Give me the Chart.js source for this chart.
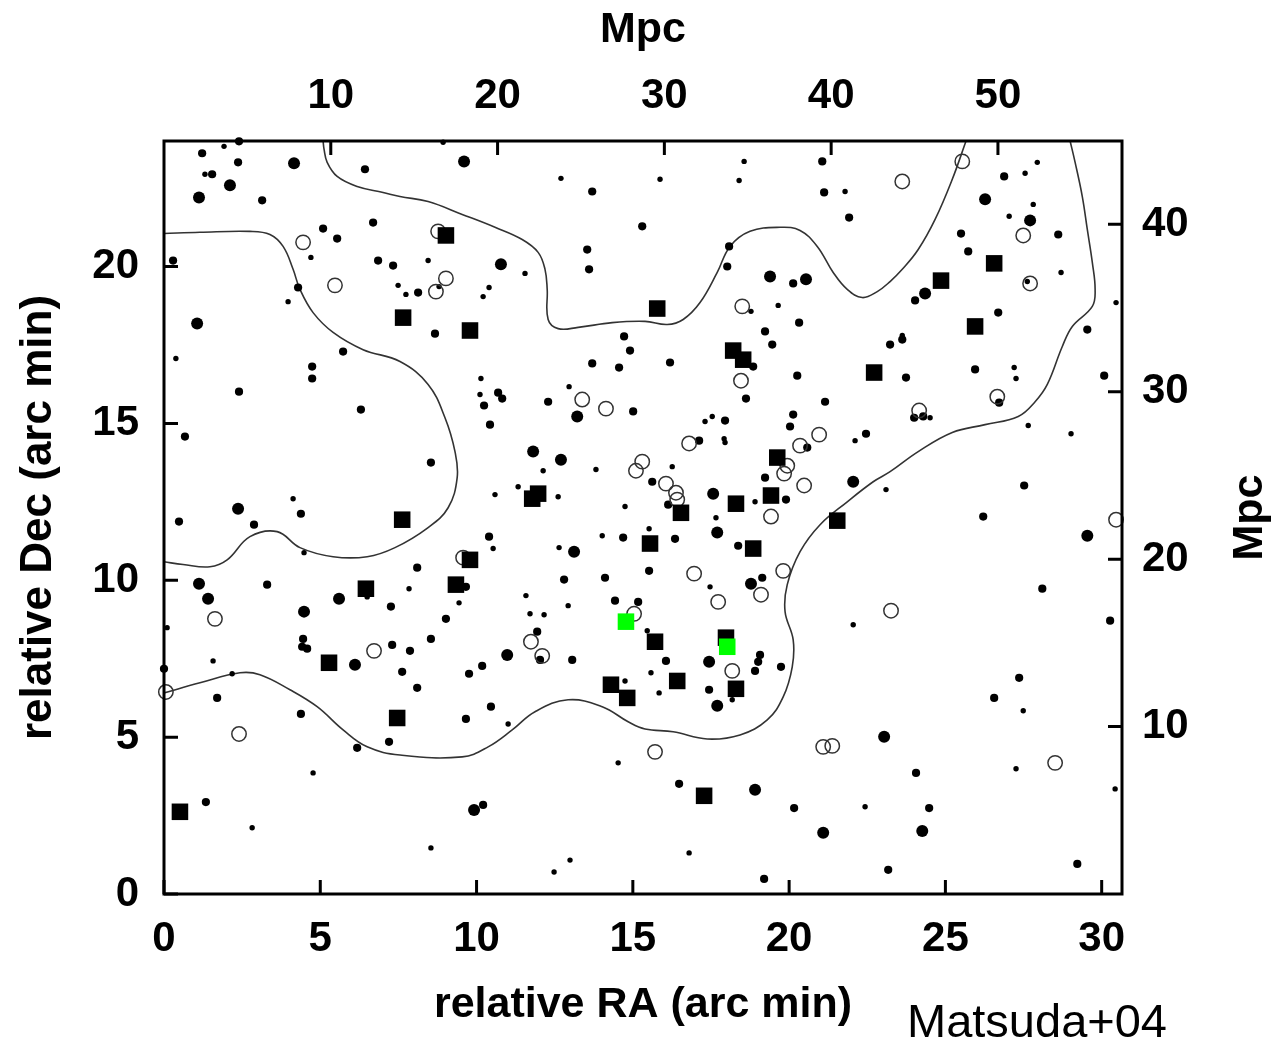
<!DOCTYPE html>
<html><head><meta charset="utf-8">
<script src="https://cdn.jsdelivr.net/npm/chart.js@4/dist/chart.umd.min.js"></script>
<style>
html,body{margin:0;padding:0;background:#fff;}
#wrap{position:relative;width:1276px;height:1039px;overflow:hidden;background:#fff;}
#c{position:absolute;left:0;top:0;}
#credit{position:absolute;left:907px;top:993px;font:47px "Liberation Sans",Arial,sans-serif;color:#000;white-space:nowrap;}
</style></head><body>
<div id="wrap"><canvas id="c" width="1276" height="1039" style="width:1276px;height:1039px"></canvas><div id="credit">Matsuda+04</div></div>
<script>
// ---- axis settings ----
const RA_MAX = 30.65;          // relative RA (arc min)
const DEC_MAX = 24.0;          // relative Dec (arc min)
const MPC_PER_ARCMIN = 1.874;
const xTicks = [0, 5, 10, 15, 20, 25, 30];
const yTicks = [0, 5, 10, 15, 20];
const mpcTopTicks = [10, 20, 30, 40, 50];
const mpcRightTicks = [10, 20, 30, 40];
const rightTitle = 'Mpc';

// ---- data: [RA, Dec] ----
const blackSquares = [
 [7.65,18.37],[9.02,20.99],[9.79,17.96],[15.78,18.66],[18.21,17.32],[18.53,17.03],[22.72,16.62],
 [26.56,20.10],[24.86,19.55],[25.95,18.09],[11.97,12.76],[11.78,12.60],[7.62,11.93],[9.79,10.65],
 [9.34,9.86],[6.46,9.73],[16.54,12.15],[18.30,12.44],[19.42,12.70],[19.62,13.91],[21.54,11.90],
 [15.55,11.17],[18.85,11.01],[15.71,8.04],[17.98,8.17],[5.28,7.37],[7.46,5.61],[14.30,6.67],
 [14.82,6.25],[16.42,6.79],[18.30,6.54],[17.28,3.13],[0.51,2.62]
];
const greenSquares = [[14.78,8.68],[18.02,7.88]];
const openCircles = [
 [4.45,20.77],[5.47,19.40],[8.77,21.12],[9.02,19.62],[8.70,19.20],[13.38,15.76],[14.14,15.47],
 [18.50,18.73],[18.46,16.36],[25.54,23.35],[23.62,22.71],[27.49,20.99],[27.71,19.46],[26.66,15.85],
 [24.16,15.41],[15.10,13.49],[15.30,13.78],[16.80,14.36],[20.96,14.64],[20.35,14.29],[19.94,13.65],
 [19.84,13.40],[16.06,13.08],[16.38,12.79],[16.42,12.57],[20.48,13.02],[19.42,12.03],[16.96,10.21],
 [19.81,10.30],[19.10,9.54],[17.73,9.31],[23.26,9.03],[30.46,11.93],[15.04,8.93],[11.74,8.04],
 [12.10,7.59],[9.57,10.72],[1.63,8.77],[6.72,7.75],[0.06,6.44],[2.40,5.10],[18.18,7.11],
 [15.71,4.53],[21.09,4.69],[21.38,4.72],[28.51,4.18]
];
const dotsLarge = [
 [4.16,23.29],[2.11,22.59],[1.12,22.20],[1.06,18.18],[9.60,23.35],[10.78,20.07],[19.39,19.68],
 [20.54,19.59],[26.27,22.14],[27.71,21.47],[24.35,19.14],[2.37,12.28],[1.12,9.89],[1.41,9.41],
 [5.60,9.41],[4.48,9.00],[13.22,15.22],[11.81,14.10],[12.70,13.84],[13.12,10.91],[22.05,13.14],
 [17.57,12.76],[17.70,11.52],[18.78,9.89],[29.54,11.42],[6.11,7.31],[10.98,7.62],[9.92,2.68],
 [17.44,7.40],[17.70,6.00],[23.04,5.01],[18.91,3.32],[21.09,1.95],[24.26,2.01]
];
const dotsMedium = [
 [2.40,23.99],[1.22,23.61],[2.37,23.32],[1.54,22.94],[3.14,22.11],[6.43,23.10],[6.69,21.40],
 [5.09,21.21],[5.54,20.89],[6.85,20.19],[7.33,20.03],[0.29,20.19],[4.29,19.33],[5.73,17.29],
 [4.74,16.81],[4.74,16.43],[2.40,16.01],[13.70,22.39],[15.30,21.28],[8.13,19.17],[13.54,20.54],
 [13.60,19.91],[8.67,17.86],[14.72,17.77],[14.91,17.32],[13.70,16.91],[14.56,16.78],[10.69,15.98],
 [21.06,23.35],[21.12,22.36],[21.92,21.56],[18.08,20.64],[18.02,20.00],[20.13,19.46],[20.32,18.21],
 [19.23,17.93],[19.46,17.51],[18.85,16.81],[16.19,16.94],[20.26,16.52],[26.88,22.87],[28.61,21.02],
 [25.50,21.05],[25.73,20.48],[24.03,18.92],[26.69,18.53],[29.54,17.99],[23.23,17.51],[23.62,17.67],
 [25.95,16.72],[23.74,16.46],[30.08,16.52],[6.30,15.44],[0.67,14.58],[4.38,12.12],[0.48,11.87],
 [2.88,11.77],[3.30,9.86],[7.26,9.16],[4.45,8.13],[4.42,7.88],[4.58,7.82],[7.30,7.94],
 [10.82,15.79],[10.24,15.57],[12.29,15.69],[15.01,15.38],[10.43,14.96],[8.54,13.75],[10.40,11.39],
 [14.69,11.36],[8.10,10.40],[9.66,9.79],[12.80,10.02],[14.11,10.08],[9.02,8.77],[14.43,9.35],
 [15.17,9.31],[8.54,8.13],[11.94,8.36],[18.62,15.79],[21.15,15.69],[20.13,15.28],[20.03,14.90],
 [17.95,15.09],[22.46,14.67],[17.12,14.45],[20.58,14.23],[19.23,13.27],[15.62,13.14],[16.13,12.41],
 [19.90,12.57],[16.35,11.32],[18.37,11.10],[15.52,10.30],[19.14,10.08],[26.72,15.66],[24.00,15.18],
 [24.29,15.22],[27.52,13.02],[26.21,12.03],[28.10,9.73],[30.27,8.71],[0.00,7.18],[1.70,6.25],
 [4.38,5.74],[7.20,4.85],[6.18,4.66],[1.34,2.93],[7.87,7.75],[7.62,7.08],[10.18,7.27],
 [9.76,7.02],[13.06,7.46],[12.03,7.46],[8.10,6.57],[10.46,5.97],[9.66,5.58],[10.21,2.84],
 [16.06,7.43],[19.07,7.62],[19.01,7.40],[18.91,7.11],[19.74,7.24],[17.44,6.51],[16.48,3.51],
 [20.16,2.74],[19.20,0.48],[23.17,0.77],[27.36,6.89],[26.56,6.25],[24.06,3.86],[24.48,2.74],
 [29.22,0.96]
];
const dotsSmall = [
 [1.92,23.83],[1.31,22.94],[4.70,20.29],[7.49,19.40],[3.97,18.88],[0.38,17.07],[8.93,23.96],
 [12.70,22.81],[8.45,20.19],[11.55,19.78],[8.80,19.36],[7.74,19.11],[10.40,19.33],[10.21,19.04],
 [10.14,16.43],[12.96,16.17],[18.56,23.35],[15.87,22.78],[18.40,22.74],[21.79,22.39],[18.78,18.57],
 [19.65,18.76],[27.94,23.32],[27.55,22.97],[27.81,21.98],[27.04,21.60],[28.70,19.81],[27.62,19.52],
 [30.46,18.85],[23.62,17.80],[27.20,16.78],[27.26,16.43],[4.13,12.60],[4.48,10.88],[6.50,9.47],
 [0.10,8.49],[10.11,15.92],[12.13,13.49],[13.82,13.53],[11.33,12.98],[10.59,12.73],[12.61,12.66],
 [14.75,12.35],[10.53,11.01],[14.02,11.42],[12.64,11.04],[7.84,9.73],[9.44,9.28],[11.58,9.51],
 [12.93,9.19],[11.71,8.93],[12.16,8.90],[17.54,15.22],[17.31,15.06],[17.92,14.51],[17.95,14.39],
 [22.11,14.45],[23.10,12.89],[16.26,13.62],[18.91,12.50],[17.66,11.99],[15.52,11.64],[17.47,9.79],
 [22.05,8.58],[15.46,8.39],[24.51,15.18],[27.65,14.93],[29.02,14.67],[1.57,7.43],[2.18,7.02],
 [4.77,3.86],[2.82,2.11],[11.01,5.42],[14.75,6.79],[14.53,4.18],[8.54,1.47],[12.99,1.08],
 [12.48,0.70],[15.58,7.05],[18.18,6.19],[15.84,6.41],[22.43,2.78],[16.80,1.31],[27.49,5.84],
 [27.26,3.99],[30.43,3.35]
];

// ---- contour lines: [RA, Dec] ----
const contourTop = [
 [5.09,24.0],[5.12,23.74],[5.22,23.32],[5.54,22.87],[6.18,22.55],[7.01,22.36],[7.55,22.23],[8.45,22.07],
 [9.54,21.66],[10.59,21.25],[11.46,20.86],[11.97,20.45],[12.19,19.91],[12.26,19.27],[12.29,18.31],
 [12.61,18.02],[13.25,18.06],[14.34,18.21],[15.39,18.25],[16.10,18.15],[16.61,18.31],[17.15,18.85],
 [17.70,19.81],[18.11,20.64],[18.75,21.12],[19.71,21.25],[20.35,21.15],[20.90,20.64],[21.41,19.81],
 [21.86,19.27],[22.34,19.01],[22.82,19.20],[23.23,19.52],[23.62,19.91],[24.13,20.54],[24.67,21.50],
 [25.22,22.78],[25.66,24.0]
];
const contourLeft = [
 [0,21.05],[1.15,21.09],[2.75,21.12],[3.39,21.02],[3.81,20.64],[4.13,19.91],[4.35,19.27],[4.77,18.53],
 [5.41,17.90],[6.37,17.35],[7.55,16.97],[8.45,16.24],[8.99,15.18],[9.31,14.10],[9.38,13.27],[9.09,12.31],
 [8.45,11.68],[7.39,11.04],[6.50,10.75],[5.41,10.75],[4.35,11.04],[3.62,11.55],[2.75,11.39],[2.02,10.65],
 [1.47,10.43],[0.61,10.50],[0,10.59]
];
const contourMain = [
 [0,6.41],[1.15,6.73],[2.43,7.05],[3.07,6.99],[4.03,6.51],[4.90,5.97],[5.73,5.23],[6.50,4.69],[7.55,4.43],
 [9.54,4.37],[10.37,4.69],[11.14,5.23],[11.87,5.81],[12.93,6.19],[14.02,5.97],[14.85,5.49],[15.39,5.26],
 [16.29,5.17],[17.38,4.94],[18.43,5.07],[19.30,5.55],[19.81,6.28],[20.10,7.24],[20.13,8.10],[19.87,9.00],
 [19.94,9.86],[20.35,10.91],[20.99,11.77],[21.86,12.50],[22.69,13.14],[23.23,13.46],[24.13,14.10],
 [25.22,14.71],[26.27,14.96],[27.33,15.22],[27.87,15.69],[28.26,16.24],[28.74,17.45],[29.06,18.09],
 [29.70,18.73],[29.79,19.27],[29.70,20.13],[29.54,21.18],[29.38,22.23],[29.15,23.32],[28.99,24.0]
];

const FONT = '"Liberation Sans", Arial, Helvetica, sans-serif';
const toXY = a => a.map(([x, y]) => ({x, y}));

function contourDs(arr) {
  return { type: 'line', data: toXY(arr), showLine: true, borderColor: '#333', borderWidth: 1.6,
           pointRadius: 0, fill: false, tension: 0.4, order: 20 };
}
function pointDs(arr, opts) {
  return Object.assign({ type: 'scatter', data: toXY(arr), showLine: false, clip: false,
    pointBorderWidth: 0, pointBackgroundColor: '#000', pointBorderColor: '#000' }, opts);
}

const tickFont = {family: FONT, size: 42, weight: 'bold'};
const titleFont = {family: FONT, size: 43, weight: 'bold'};

const framePlugin = {
  id: 'frame',
  afterDatasetsDraw(chart) {
    const {ctx, chartArea: a, scales} = chart;
    ctx.save();
    ctx.strokeStyle = '#000';
    ctx.lineWidth = 3;
    const L = 14;
    ctx.beginPath();
    xTicks.forEach(v => { const p = scales.x.getPixelForValue(v); ctx.moveTo(p, a.bottom); ctx.lineTo(p, a.bottom - L); });
    yTicks.forEach(v => { const p = scales.y.getPixelForValue(v); ctx.moveTo(a.left, p); ctx.lineTo(a.left + L, p); });
    mpcTopTicks.forEach(v => { const p = scales.x2.getPixelForValue(v); ctx.moveTo(p, a.top); ctx.lineTo(p, a.top + L); });
    mpcRightTicks.forEach(v => { const p = scales.y2.getPixelForValue(v); ctx.moveTo(a.right, p); ctx.lineTo(a.right - L, p); });
    ctx.stroke();
    ctx.strokeRect(a.left, a.top, a.right - a.left, a.bottom - a.top);
    // right axis title, reading bottom-to-top
    const s = scales.y2;
    ctx.translate(s.right - 26, (a.top + a.bottom) / 2);
    ctx.rotate(-Math.PI / 2);
    ctx.fillStyle = '#000';
    ctx.font = 'bold 43px ' + FONT;
    ctx.textAlign = 'center';
    ctx.textBaseline = 'middle';
    ctx.fillText(rightTitle, 0, 0);
    ctx.restore();
  }
};

new Chart(document.getElementById('c'), {
  type: 'scatter',
  data: {
    datasets: [
      contourDs(contourTop), contourDs(contourLeft), contourDs(contourMain),
      pointDs(dotsSmall, {pointRadius: 2.7, order: 6}),
      pointDs(dotsMedium, {pointRadius: 4.1, order: 5}),
      pointDs(dotsLarge, {pointRadius: 6, order: 4}),
      pointDs(openCircles, {pointRadius: 7.2, pointBackgroundColor: 'rgba(0,0,0,0)', pointBorderColor: '#333', pointBorderWidth: 1.5, order: 3}),
      pointDs(blackSquares, {pointStyle: 'rect', pointRadius: 11.7, order: 2}),
      pointDs(greenSquares, {pointStyle: 'rect', pointRadius: 11.7, pointBackgroundColor: '#00ff00', order: 1})
    ]
  },
  options: {
    responsive: false, animation: false, events: [],
    layout: {padding: 0},
    plugins: {legend: {display: false}, tooltip: {enabled: false}},
    scales: {
      x: {
        type: 'linear', position: 'bottom', min: 0, max: RA_MAX,
        afterBuildTicks: s => { s.ticks = xTicks.map(v => ({value: v})); },
        ticks: {font: tickFont, color: '#000', padding: 20, maxRotation: 0, autoSkip: false},
        grid: {display: false, drawTicks: false}, border: {display: false},
        title: {display: true, text: 'relative RA (arc min)', font: titleFont, color: '#000', padding: {top: 0, bottom: 8}},
        afterFit: s => { s.height = 145; }
      },
      y: {
        type: 'linear', position: 'left', min: 0, max: DEC_MAX,
        afterBuildTicks: s => { s.ticks = yTicks.map(v => ({value: v})); },
        ticks: {font: tickFont, color: '#000', padding: 25, autoSkip: false},
        grid: {display: false, drawTicks: false}, border: {display: false},
        title: {display: true, text: 'relative Dec (arc min)', font: {family: FONT, size: 44, weight: 'bold'}, color: '#000', padding: {top: 12, bottom: 0}},
        afterFit: s => { s.width = 164; }
      },
      x2: {
        type: 'linear', position: 'top', min: 0, max: RA_MAX * MPC_PER_ARCMIN,
        afterBuildTicks: s => { s.ticks = mpcTopTicks.map(v => ({value: v})); },
        ticks: {font: tickFont, color: '#000', padding: 19, maxRotation: 0, autoSkip: false},
        grid: {display: false, drawTicks: false}, border: {display: false},
        title: {display: true, text: 'Mpc', font: titleFont, color: '#000', padding: {top: 4, bottom: 0}},
        afterFit: s => { s.height = 141; }
      },
      y2: {
        type: 'linear', position: 'right', min: 0, max: DEC_MAX * MPC_PER_ARCMIN,
        afterBuildTicks: s => { s.ticks = mpcRightTicks.map(v => ({value: v})); },
        ticks: {font: tickFont, color: '#000', padding: 20, autoSkip: false},
        grid: {display: false, drawTicks: false}, border: {display: false},
        title: {display: false},
        afterFit: s => { s.width = 154; }
      }
    }
  },
  plugins: [framePlugin]
});
</script>
</body></html>
